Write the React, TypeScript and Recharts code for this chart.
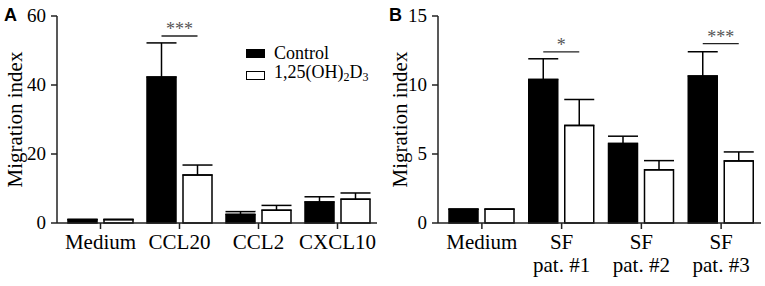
import { Bar, BarChart, ErrorBar, Label, LabelList, XAxis, YAxis } from "recharts";

const SERIF = "'Liberation Serif', 'Times New Roman', serif";
const SANS = "'Liberation Sans', Arial, sans-serif";
const BAR_SIZE = 29;
const BAR_GAP = 7;

// panel A: chemokines
const catsA = ["Medium", "CCL20", "CCL2", "CXCL10"];
const controlA = [1, 42.3, 2.5, 6.1];
const controlErrA = [0, 9.9, 0.8, 1.5];
const vitDA = [1, 13.9, 3.7, 6.9];
const vitDErrA = [0, 2.9, 1.4, 1.8];
const sigA = ["", "***", "", ""];
const sigLevelA = [0, 54.2, 0, 0];
const ticksA = [0, 20, 40, 60];

// panel B: synovial fluid
const catsB = ["Medium", "SF\npat. #1", "SF\npat. #2", "SF\npat. #3"];
const controlB = [1, 10.4, 5.76, 10.65];
const controlErrB = [0, 1.5, 0.53, 1.76];
const vitDB = [1, 7.07, 3.85, 4.5];
const vitDErrB = [0, 1.88, 0.67, 0.65];
const sigB = ["", "*", "", "***"];
const sigLevelB = [0, 12.4, 0, 13.0];
const ticksB = [0, 5, 10, 15];

type Row = {
  cat: string;
  control: number;
  controlErr: number[];
  vitD: number;
  vitDErr: number[];
  sig: string;
  sigLevel: number;
};

const buildRows = (
  cats: string[],
  ctrl: number[],
  ctrlErr: number[],
  vd: number[],
  vdErr: number[],
  sig: string[],
  sigLevel: number[]
): Row[] =>
  cats.map((cat, i) => ({
    cat,
    control: ctrl[i],
    controlErr: [0, ctrlErr[i]],
    vitD: vd[i],
    vitDErr: [0, vdErr[i]],
    sig: sig[i],
    sigLevel: sigLevel[i],
  }));

const rowsA = buildRows(catsA, controlA, controlErrA, vitDA, vitDErrA, sigA, sigLevelA);
const rowsB = buildRows(catsB, controlB, controlErrB, vitDB, vitDErrB, sigB, sigLevelB);

/** Bracket from the control bar centre to the treated bar centre, with the stars above it. */
const makeSig = (rows: Row[]) => (p: any) => {
  const { x, y, width, height, index } = p;
  const row = rows[index];
  if (!row || !row.sig) return null;
  const ppu = height / row.control;
  const yLine = y + height - row.sigLevel * ppu;
  const x1 = x + width / 2;
  const x2 = x + width * 1.5 + BAR_GAP;
  return (
    <g>
      <line x1={x1} x2={x2} y1={yLine} y2={yLine} stroke="#222" strokeWidth={1.3} />
      <text x={(x1 + x2) / 2} y={yLine - 1} textAnchor="middle" fontFamily={SERIF} fontSize={18} fill="#555">
        {row.sig}
      </text>
    </g>
  );
};

const CatTick = (p: any) => {
  const lines = String(p.payload.value).split("\n");
  return (
    <text x={p.x} y={p.y + 18} textAnchor="middle" fontFamily={SERIF} fontSize={21} fill="#000">
      {lines.map((l, i) => (
        <tspan key={i} x={p.x} dy={i === 0 ? 0 : 23}>
          {l}
        </tspan>
      ))}
    </text>
  );
};

const NumTick = (p: any) => (
  <text x={p.x} y={p.y} dy={6} textAnchor="end" fontFamily={SERIF} fontSize={19} fill="#000">
    {p.payload.value}
  </text>
);

const YTitle = (p: any) => {
  const vb = p.viewBox;
  const cx = vb.x + 15;
  const cy = vb.y + vb.height / 2;
  return (
    <text
      x={cx}
      y={cy}
      transform={`rotate(-90 ${cx} ${cy})`}
      textAnchor="middle"
      dominantBaseline="central"
      fontFamily={SERIF}
      fontSize={21}
      fill="#000"
    >
      Migration index
    </text>
  );
};

const swatch = (fill: string) => (
  <span
    style={{
      display: "inline-block",
      width: 17,
      height: 7,
      background: fill,
      border: "1.5px solid #000",
      marginRight: 9,
    }}
  />
);

const LegendBox = () => (
  <div
    style={{
      position: "absolute",
      left: 246,
      top: 44,
      fontFamily: SERIF,
      fontSize: 18,
      lineHeight: "19px",
      color: "#000",
    }}
  >
    <div style={{ display: "flex", alignItems: "center" }}>
      {swatch("#000")}
      Control
    </div>
    <div style={{ display: "flex", alignItems: "center" }}>
      {swatch("#fff")}
      <span>
        1,25(OH)<sub style={{ fontSize: 12, verticalAlign: "-3px" }}>2</sub>D
        <sub style={{ fontSize: 12, verticalAlign: "-3px" }}>3</sub>
      </span>
    </div>
  </div>
);

function Panel({
  rows,
  ticks,
  width,
  yWidth,
  right,
  letter,
  legend,
}: {
  rows: Row[];
  ticks: number[];
  width: number;
  yWidth: number;
  right: number;
  letter: string;
  legend?: boolean;
}) {
  const axisStroke = "#222";
  return (
    <div style={{ position: "relative", width, height: 286 }}>
      <div
        style={{
          position: "absolute",
          left: 4,
          top: 6,
          fontFamily: SANS,
          fontWeight: 700,
          fontSize: 18,
          lineHeight: "18px",
          zIndex: 2,
        }}
      >
        {letter}
      </div>
      <BarChart
        width={width}
        height={286}
        data={rows}
        margin={{ top: 16, right, left: 0, bottom: 0 }}
        barSize={BAR_SIZE}
        barGap={BAR_GAP}
      >
        <XAxis
          dataKey="cat"
          height={63}
          padding={{ left: 4, right: 0 }}
          axisLine={{ stroke: axisStroke, strokeWidth: 1.5 }}
          tickLine={{ stroke: axisStroke, strokeWidth: 1.5 }}
          tickSize={6}
          tick={<CatTick />}
          interval={0}
        />
        <YAxis
          width={yWidth}
          domain={[0, ticks[ticks.length - 1]]}
          ticks={ticks}
          axisLine={{ stroke: axisStroke, strokeWidth: 1.5 }}
          tickLine={{ stroke: axisStroke, strokeWidth: 1.5 }}
          tickSize={6}
          tickMargin={5}
          tick={<NumTick />}
        >
          <Label content={<YTitle />} />
        </YAxis>
        <Bar dataKey="control" name="Control" fill="#000" stroke="#000" strokeWidth={1.5} isAnimationActive={false}>
          <ErrorBar dataKey="controlErr" direction="y" width={15} stroke="#000" strokeWidth={1.5} isAnimationActive={false} />
          <LabelList dataKey="sig" content={makeSig(rows)} />
        </Bar>
        <Bar dataKey="vitD" name="1,25(OH)2D3" fill="#fff" stroke="#000" strokeWidth={1.5} isAnimationActive={false}>
          <ErrorBar dataKey="vitDErr" direction="y" width={15} stroke="#000" strokeWidth={1.5} isAnimationActive={false} />
        </Bar>
      </BarChart>
      {legend && <LegendBox />}
    </div>
  );
}

export default function App() {
  return (
    <div style={{ position: "absolute", left: 0, top: 0, width: 765, height: 286, background: "#fff", display: "flex" }}>
      <Panel rows={rowsA} ticks={ticksA} width={385} yWidth={57} right={8} letter="A" legend />
      <Panel rows={rowsB} ticks={ticksB} width={380} yWidth={53} right={4} letter="B" />
    </div>
  );
}
